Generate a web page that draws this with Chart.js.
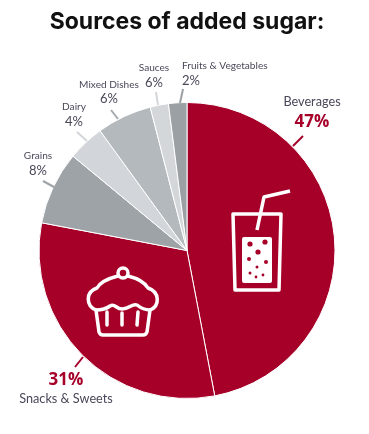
<!DOCTYPE html>
<html>
<head>
<meta charset="utf-8">
<title>Sources of added sugar</title>
<script src="https://cdn.jsdelivr.net/npm/chart.js@4/dist/chart.umd.min.js"></script>
<style>
  html, body { margin: 0; padding: 0; background: #fff; }
  #chart { display: block; }
</style>
</head>
<body>
<canvas id="chart" width="369" height="434"></canvas>
<script>
const categories = ['Beverages', 'Snacks & Sweets', 'Grains', 'Dairy', 'Mixed Dishes', 'Sauces', 'Fruits & Vegetables'];
// slice sizes as drawn in the picture
const sliceValues = [47, 31, 8, 4, 6, 2, 2];
// percentages as printed next to the slices
const printedPercents = ['47%', '31%', '8%', '4%', '6%', '6%', '2%'];
const sliceColors = ['#a60029', '#a60029', '#9ea3a7', '#d2d6da', '#b4b9bd', '#d3d7da', '#9aa0a4'];

// label placement: [x, name y, percent y, text align]
const labelSpots = [
  [312, 102, 122, 'center'],
  [66, 399, 380, 'center'],
  [38, 156, 171, 'center'],
  [74, 107, 122, 'center'],
  [109, 85, 99, 'center'],
  [154, 68, 83, 'center'],
  [182, 66, 81, 'left']
];
// leader lines: [x1, y1, x2, y2]
const leaderLines = [
  [293, 146, 303, 136],
  [83, 357, 75, 367],
  [54, 187, 43, 181],
  [87, 141, 77, 132],
  [118, 119, 111, 110],
  [158, 105, 156, 92],
  [180, 103, 183, 89]
];
const leaderColors = ['#a60029', '#a60029', '#9ea3a7', '#d2d6da', '#a4a9ad', '#d3d7da', '#9aa0a4'];

const textColor = '#4b4759';
const red = '#a60029';

// Etiquetas y lineas guia de cada porcion
const labelsPlugin = {
  id: 'sliceLabels',
  afterDatasetsDraw(chart) {
    const ctx = chart.ctx;
    ctx.save();
    leaderLines.forEach((l, i) => {
      ctx.beginPath();
      ctx.moveTo(l[0], l[1]);
      ctx.lineTo(l[2], l[3]);
      ctx.strokeStyle = leaderColors[i];
      ctx.lineWidth = 2;
      ctx.stroke();
    });
    ctx.textBaseline = 'middle';
    categories.forEach((name, i) => {
      const spot = labelSpots[i];
      const big = i < 2;
      ctx.textAlign = spot[3];
      ctx.fillStyle = textColor;
      ctx.font = big ? '12.7px Lato' : '10.1px Lato';
      ctx.fillText(name, spot[0], spot[1]);
      ctx.fillStyle = big ? red : textColor;
      ctx.font = big ? 'bold 17px "Open Sans"' : '13px Lato';
      ctx.fillText(printedPercents[i], spot[0], spot[2]);
    });
    ctx.restore();
  }
};

// Iconos blancos: vaso y magdalena
function drawGlass(ctx) {
  ctx.strokeStyle = '#fff';
  ctx.fillStyle = '#fff';
  ctx.lineWidth = 3.5;
  ctx.lineJoin = 'round';
  ctx.lineCap = 'butt';
  ctx.beginPath();
  ctx.moveTo(233, 214);
  ctx.lineTo(281, 214);
  ctx.lineTo(279, 290);
  ctx.lineTo(235, 290);
  ctx.closePath();
  ctx.stroke();
  ctx.beginPath();
  ctx.moveTo(257, 230);
  ctx.lineTo(264, 197);
  ctx.lineTo(290, 191);
  ctx.stroke();
  ctx.beginPath();
  ctx.roundRect(242, 237, 30, 46, 2);
  ctx.fill();
  ctx.fillStyle = red;
  const bubbles = [[250, 244, 2.6], [265, 242, 2.6], [258, 252, 2.6], [249, 259, 2], [266, 262, 2], [257, 267, 1.5], [250, 273, 1.5], [256, 277, 1.4], [263, 275, 1.4]];
  bubbles.forEach(b => {
    ctx.beginPath();
    ctx.arc(b[0], b[1], b[2], 0, Math.PI * 2);
    ctx.fill();
  });
}

function drawCupcake(ctx) {
  ctx.strokeStyle = '#fff';
  ctx.lineWidth = 3.5;
  ctx.lineJoin = 'round';
  ctx.lineCap = 'round';
  ctx.beginPath();
  ctx.arc(123, 273, 5, 0, Math.PI * 2);
  ctx.stroke();
  // frosting
  ctx.beginPath();
  ctx.moveTo(96, 310);
  ctx.bezierCurveTo(86, 306, 85, 292, 97, 288);
  ctx.bezierCurveTo(101, 281, 110, 278, 118, 276);
  ctx.moveTo(128, 276);
  ctx.bezierCurveTo(136, 278, 144, 281, 148, 288);
  ctx.bezierCurveTo(160, 292, 160, 306, 150, 310);
  ctx.bezierCurveTo(146, 310, 142, 309, 137, 305);
  ctx.bezierCurveTo(132, 303, 130, 309, 122, 309);
  ctx.bezierCurveTo(116, 309, 115, 303, 110, 306);
  ctx.bezierCurveTo(106, 309, 101, 310, 96, 310);
  ctx.stroke();
  // wrapper
  ctx.beginPath();
  ctx.moveTo(96, 310);
  ctx.lineTo(99, 332);
  ctx.quadraticCurveTo(100, 335, 103, 335);
  ctx.lineTo(143, 335);
  ctx.quadraticCurveTo(146, 335, 147, 332);
  ctx.lineTo(150, 310);
  ctx.stroke();
  [[107, 312, 107, 325], [122, 313, 122, 325], [138, 312, 137, 325]].forEach(l => {
    ctx.beginPath();
    ctx.moveTo(l[0], l[1]);
    ctx.lineTo(l[2], l[3]);
    ctx.stroke();
  });
}

const iconsPlugin = {
  id: 'icons',
  afterDatasetsDraw(chart) {
    const ctx = chart.ctx;
    ctx.save();
    drawGlass(ctx);
    drawCupcake(ctx);
    ctx.restore();
  }
};

new Chart(document.getElementById('chart').getContext('2d'), {
  type: 'pie',
  data: {
    labels: categories,
    datasets: [{
      data: sliceValues,
      backgroundColor: sliceColors,
      borderColor: '#fff',
      borderWidth: 1
    }]
  },
  options: {
    responsive: false,
    animation: false,
    layout: { padding: { left: 38.5, right: 33.5, top: 0, bottom: 35 } },
    plugins: {
      legend: { display: false },
      tooltip: { enabled: false },
      title: {
        display: true,
        text: 'Sources of added sugar:',
        color: '#111',
        font: { family: 'Inter', size: 23, weight: '700' },
        padding: { top: 8, bottom: 66.4 }
      }
    }
  },
  plugins: [iconsPlugin, labelsPlugin]
});
</script>
</body>
</html>
